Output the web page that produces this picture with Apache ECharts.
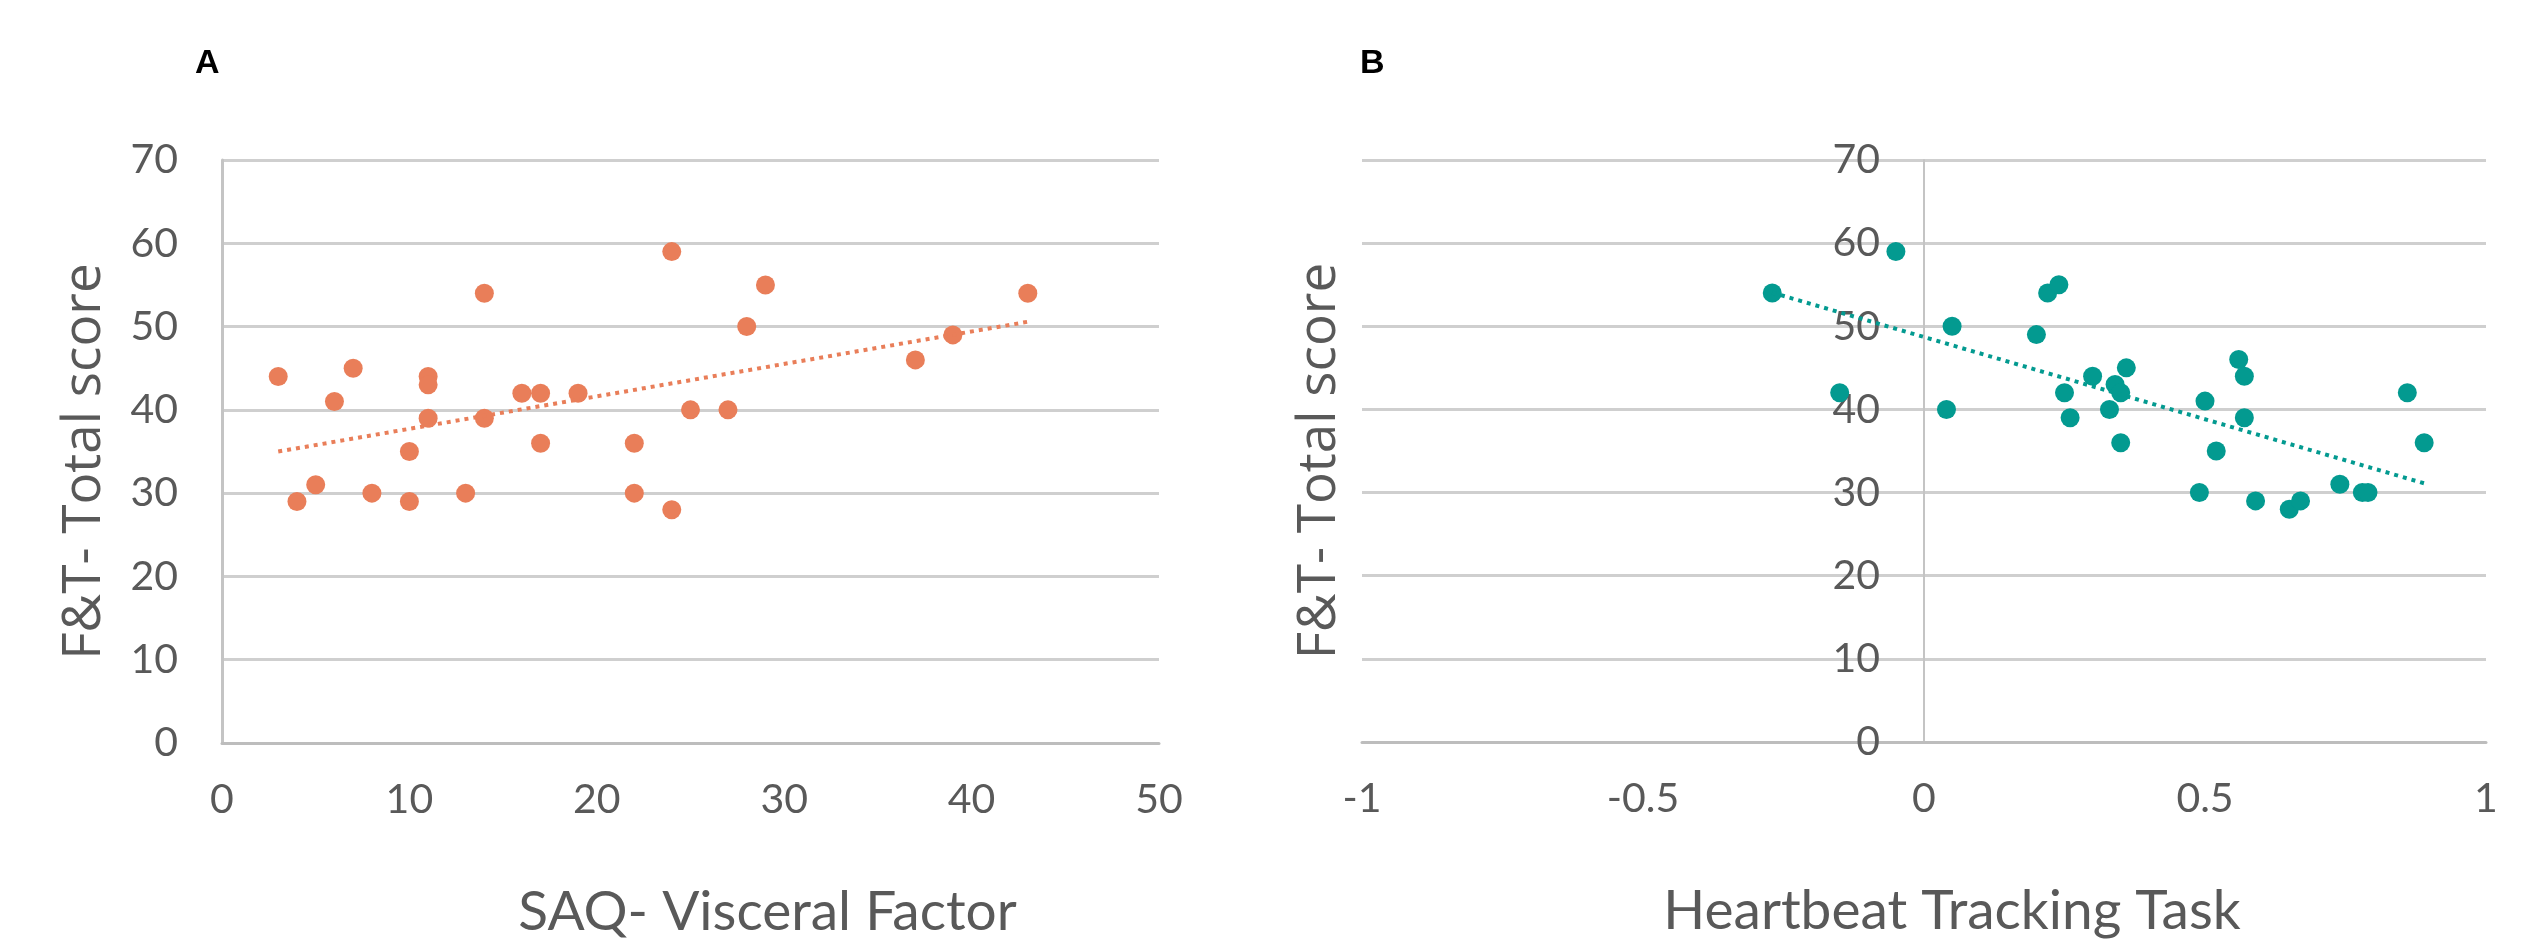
<!DOCTYPE html>
<html>
<head>
    <meta charset="utf-8">
    <script src="https://cdn.jsdelivr.net/npm/echarts@6/dist/echarts.min.js"></script>
    <style>
        html, body { margin: 0; padding: 0; background: #fff; }
        #main { width: 2531px; height: 945px; }
    </style>
</head>
<body>
<div id="main"></div>
<script type="text/javascript">
    // panel A: SAQ visceral factor vs F&T total
    var saqX = [3, 4, 5, 6, 7, 8, 10, 10, 11, 11, 11, 13, 14, 14, 16, 17, 17, 19, 22, 22, 24, 24, 25, 27, 28, 29, 37, 39, 43];
    var saqY = [44, 29, 31, 41, 45, 30, 35, 29, 44, 43, 39, 30, 54, 39, 42, 42, 36, 42, 36, 30, 59, 28, 40, 40, 50, 55, 46, 49, 54];

    // panel B: heartbeat tracking vs F&T total
    var hbtX = [-0.27, -0.15, -0.05, 0.04, 0.05, 0.20, 0.22, 0.24, 0.25, 0.26, 0.30, 0.33, 0.34, 0.35, 0.35, 0.36,
        0.49, 0.50, 0.52, 0.56, 0.57, 0.57, 0.59, 0.65, 0.67, 0.74, 0.78, 0.79, 0.86, 0.89];
    var hbtY = [54, 42, 59, 40, 50, 49, 54, 55, 42, 39, 44, 40, 43, 42, 36, 45,
        30, 41, 35, 46, 44, 39, 29, 28, 29, 31, 30, 30, 42, 36];

    var panelLabels = ['A', 'B'];
    var xTitles = ['SAQ- Visceral Factor', 'Heartbeat Tracking Task'];
    var yTitle = 'F&T- Total score';

    var orange = '#E97E59';
    var teal = '#039A90';
    var grey = '#595959';
    var gridCol = '#CFCFCF';

    function pairs(xs, ys) {
        return xs.map(function (x, i) { return [x, ys[i]]; });
    }

    // least squares trend line (like excel's linear trendline)
    function trend(xs, ys) {
        var n = xs.length, sx = 0, sy = 0, sxx = 0, sxy = 0;
        for (var i = 0; i < n; i++) {
            sx += xs[i]; sy += ys[i]; sxx += xs[i] * xs[i]; sxy += xs[i] * ys[i];
        }
        var b = (n * sxy - sx * sy) / (n * sxx - sx * sx);
        var a = (sy - b * sx) / n;
        var x0 = Math.min.apply(null, xs), x1 = Math.max.apply(null, xs);
        return [[x0, a + b * x0], [x1, a + b * x1]];
    }

    var myChart = echarts.init(document.getElementById('main'));

    var tickFont = { color: grey, fontFamily: 'Lato', fontSize: 41 };

    function xAx(idx, min, max, step, padLeft) {
        return {
            type: 'value', gridIndex: idx, min: min, max: max, interval: step,
            name: xTitles[idx], nameLocation: 'middle', nameGap: 142,
            nameTextStyle: { color: grey, fontFamily: 'Lato', fontSize: 55, padding: [0, 0, 0, padLeft] },
            axisLine: { show: true, onZero: false, lineStyle: { color: '#BDBDBD', width: 3 } },
            axisTick: { show: false },
            splitLine: { show: false },
            axisLabel: Object.assign({ margin: 36 }, tickFont)
        };
    }

    // offset < 0 pulls the axis into the plot (panel B has it at x = 0)
    function yAx(idx, gap, lineW, off) {
        return {
            type: 'value', gridIndex: idx, min: 0, max: 70, interval: 10, offset: off,
            name: yTitle, nameLocation: 'middle', nameGap: gap,
            nameTextStyle: { color: grey, fontFamily: 'Open Sans', fontSize: 53, padding: [0, 20, 0, 0] },
            axisLine: { show: true, onZero: false, lineStyle: { color: '#C4C4C4', width: lineW } },
            axisTick: { show: false },
            splitLine: { show: true, lineStyle: { color: gridCol, width: 3 } },
            axisLabel: Object.assign({ margin: 44 }, tickFont)
        };
    }

    var option = {
        animation: false,
        backgroundColor: '#fff',
        grid: [
            { left: 222, right: 1372, top: 160, bottom: 202 },
            { left: 1362, right: 45, top: 160, bottom: 203 }
        ],
        graphic: [
            { type: 'text', left: 195, top: 47, style: { text: panelLabels[0], font: 'bold 34px "Liberation Sans", Arial', fill: '#000' } },
            { type: 'text', left: 1360, top: 47, style: { text: panelLabels[1], font: 'bold 34px "Liberation Sans", Arial', fill: '#000' } }
        ],
        xAxis: [xAx(0, 0, 50, 10, 154), xAx(1, -1, 1, 0.5, 56)],
        yAxis: [yAx(0, 111, 3, 0), yAx(1, 578, 2, -562)],
        series: [
            {
                type: 'scatter', xAxisIndex: 0, yAxisIndex: 0,
                symbolSize: 19, itemStyle: { color: orange, opacity: 1 },
                data: pairs(saqX, saqY)
            },
            {
                type: 'line', xAxisIndex: 0, yAxisIndex: 0, z: 5,
                symbol: 'none', silent: true,
                lineStyle: { color: orange, width: 4, type: [4, 5] },
                data: trend(saqX, saqY)
            },
            {
                type: 'scatter', xAxisIndex: 1, yAxisIndex: 1,
                symbolSize: 19, itemStyle: { color: teal, opacity: 1 },
                data: pairs(hbtX, hbtY)
            },
            {
                type: 'line', xAxisIndex: 1, yAxisIndex: 1, z: 5,
                symbol: 'none', silent: true,
                lineStyle: { color: teal, width: 4, type: [4, 5] },
                data: trend(hbtX, hbtY)
            }
        ]
    };

    myChart.setOption(option);
</script>
</body>
</html>
